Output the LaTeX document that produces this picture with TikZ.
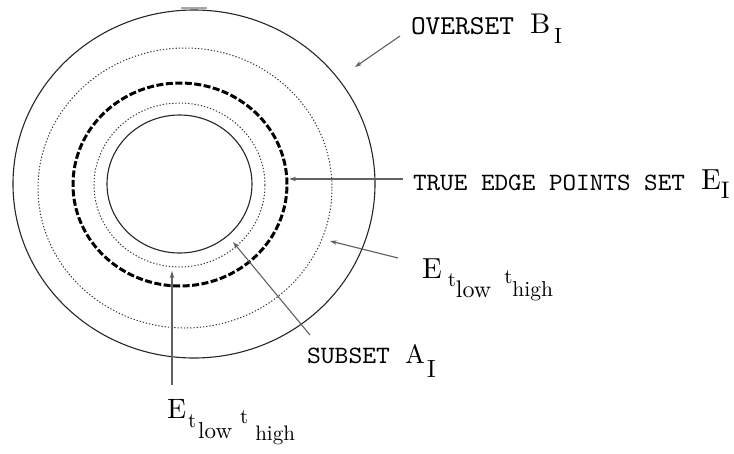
\documentclass[tikz,border=0pt]{standalone}
\usepackage{fontspec}
\usepackage{graphicx}
\usetikzlibrary{arrows.meta}
% text at a given size (in pt) by scaling 10pt type
\newcommand{\rmtx}[2]{\scalebox{#1}{\fontsize{10}{10}\selectfont\rmfamily #2}}
% typewriter caps forced to a given width and cap height
\newcommand{\ttfit}[3]{\resizebox{#1}{#2}{\fontsize{10}{10}\selectfont\ttfamily #3}}
\begin{document}
\begin{tikzpicture}[x=1pt,y=-1pt,
  solidring/.style={draw=black!85, line width=1.1pt},
  dotring/.style={draw=black!78, line width=1pt, dash pattern=on 1.3pt off 1.9pt},
  thickring/.style={draw=black, line width=3pt, dash pattern=on 7pt off 2.5pt},
  pointer/.style={draw=black!62, line width=1.1pt, -{Stealth[length=7pt,width=4.5pt]}},
  lbl/.style={anchor=base west, inner sep=0pt, outer sep=0pt}]
\useasboundingbox (0,0) rectangle (734,453);

% rings
\draw[solidring] (194,184) ellipse [x radius=181pt, y radius=174pt];
\draw[dotring]   (185,188) ellipse [x radius=147pt, y radius=140pt];
\draw[thickring] (180,184.5) ellipse [x radius=107pt, y radius=101.5pt];
\draw[dotring]   (179.5,185) ellipse [x radius=85.5pt, y radius=82pt];
\draw[solidring] (179.5,184) ellipse [x radius=72.5pt, y radius=69pt];
\draw[black!35, line width=2pt] (181,7.5) -- (207,7.5);

% labels
\node[lbl] (over) at (411,34) {\ttfit{103pt}{17pt}{OVERSET}};
\node[lbl] (overB) at (530,33) {\rmtx{2.85}{B}\hspace{4pt}\raisebox{-10pt}{\rmtx{2.2}{I}}};
\node[lbl] (true) at (413,190) {\ttfit{272pt}{15.5pt}{TRUE EDGE POINTS SET}};
\node[lbl] (trueE) at (701,189) {\rmtx{2.9}{E}\raisebox{-9pt}{\rmtx{2.4}{I}}};
\node[lbl] (sub) at (307,363) {\ttfit{83pt}{15.5pt}{SUBSET}};
\node[lbl] (subA) at (405,363) {\rmtx{2.65}{A}\hspace{2pt}\raisebox{-14pt}{\rmtx{2.5}{I}}};
\node[lbl] (eR) at (422,278) {\rmtx{2.9}{E}\hspace{6pt}\raisebox{-8pt}{\rmtx{2.1}{t}}\raisebox{-19pt}{\rmtx{2.4}{low}}\hspace{13pt}\raisebox{-5pt}{\rmtx{2.1}{t}}\raisebox{-18pt}{\rmtx{2.15}{high}}};
\node[lbl] (eB) at (167,418) {\rmtx{2.8}{E}\hspace{2pt}\raisebox{-9pt}{\rmtx{2.1}{t}}\hspace{2pt}\raisebox{-20pt}{\rmtx{2.3}{low}}\hspace{8pt}\raisebox{-5pt}{\rmtx{2.1}{t}}\hspace{7pt}\raisebox{-22pt}{\rmtx{2.1}{high}}};

% arrow ends
\coordinate (a1s) at (400,36);  \coordinate (a1e) at (355,67);
\coordinate (a2s) at (403,179); \coordinate (a2e) at (289,179);
\coordinate (a3s) at (398,258); \coordinate (a3e) at (330,241);
\coordinate (a4s) at (310,335); \coordinate (a4e) at (233,242);
\coordinate (a5s) at (172,385); \coordinate (a5e) at (172,271);

\draw[pointer] (a1s) -- (a1e);
\draw[pointer] (a2s) -- (a2e);
\draw[pointer] (a3s) -- (a3e);
\draw[pointer] (a4s) -- (a4e);
\draw[pointer] (a5s) -- (a5e);
\end{tikzpicture}
\end{document}
